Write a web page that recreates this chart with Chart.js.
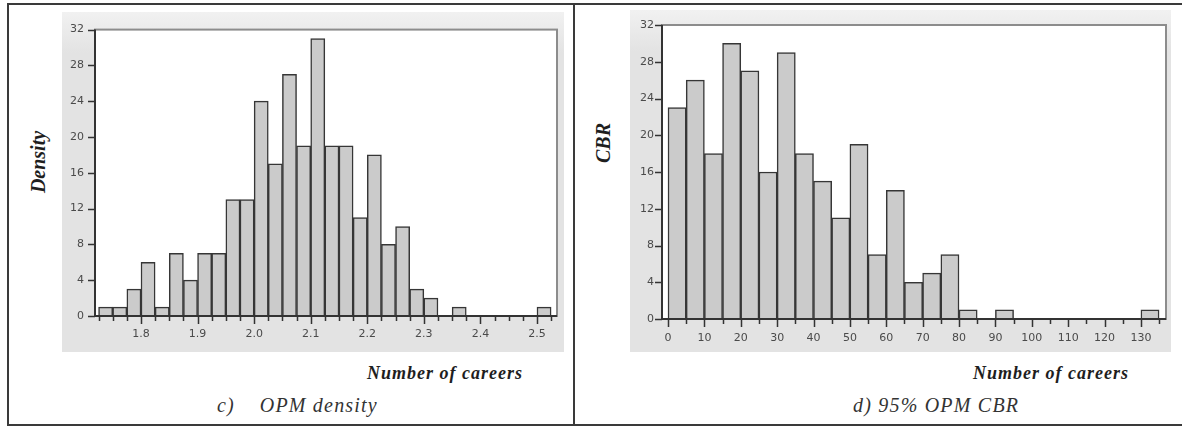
<!DOCTYPE html>
<html>
<head>
<meta charset="utf-8">
<script src="https://cdn.jsdelivr.net/npm/chart.js@4.4.1/dist/chart.umd.min.js"></script>
<style>
  html, body { margin: 0; padding: 0; background: #fff; }
  #page { position: relative; width: 1182px; height: 428px; overflow: hidden; background: #fff; }
  .rule { position: absolute; background: #3a3a3a; }
  .panel { position: absolute; background: linear-gradient(#f1f1f1, #e3e3e3 12%, #e3e3e3); }
  .panel canvas { display: block; }
  .ytitle { position: absolute; font: italic bold 20px "Liberation Serif", serif; color: #1e1e1e;
            transform: translate(-50%, -50%) rotate(-90deg); white-space: nowrap; }
  .xtitle { position: absolute; font: italic bold 18px "Liberation Serif", serif; color: #1e1e1e;
            letter-spacing: 1px; white-space: nowrap; transform: translateY(-50%); }
  .caption { position: absolute; font: italic 20px "Liberation Serif", serif; color: #333;
             letter-spacing: 1.2px; white-space: nowrap; transform: translateY(-50%); }
</style>
</head>
<body>
<div id="page">
  <div class="rule" style="left:7px;top:3px;width:1175px;height:2px"></div>
  <div class="rule" style="left:7px;top:3px;width:2px;height:423px"></div>
  <div class="rule" style="left:7px;top:424px;width:1175px;height:2px"></div>
  <div class="rule" style="left:573px;top:3px;width:2px;height:423px"></div>

  <div class="panel" style="left:62px;top:12px;width:502px;height:340px">
    <canvas id="densityChart" width="502" height="340"></canvas>
  </div>
  <div class="panel" style="left:630px;top:10px;width:541px;height:342px">
    <canvas id="cbrChart" width="541" height="342"></canvas>
  </div>

  <div class="ytitle" style="left:38px;top:162px">Density</div>
  <div class="ytitle" style="left:603px;top:143px">CBR</div>
  <div class="xtitle" style="left:367px;top:373px">Number of careers</div>
  <div class="xtitle" style="left:973px;top:373px">Number of careers</div>
  <div class="caption" style="left:217px;top:405px">c)&nbsp;&nbsp;&nbsp;&nbsp;OPM density</div>
  <div class="caption" style="left:853px;top:405px">d) 95% OPM CBR</div>
</div>

<script>
// OPM density histogram: lower bin edges (width 0.025) and counts
const densityBins = [1.725, 1.75, 1.775, 1.8, 1.825, 1.85, 1.875, 1.9, 1.925, 1.95, 1.975,
                     2.0, 2.025, 2.05, 2.075, 2.1, 2.125, 2.15, 2.175, 2.2, 2.225, 2.25, 2.275,
                     2.3, 2.325, 2.35, 2.375, 2.4, 2.425, 2.45, 2.475, 2.5];
const densityCounts = [1, 1, 3, 6, 1, 7, 4, 7, 7, 13, 13,
                       24, 17, 27, 19, 31, 19, 19, 11, 18, 8, 10, 3,
                       2, 0, 1, 0, 0, 0, 0, 0, 1];
const densityBinWidth = 0.025;

// 95% OPM CBR histogram: lower bin edges (width 5) and counts
const cbrBins = [0, 5, 10, 15, 20, 25, 30, 35, 40, 45, 50, 55, 60, 65, 70, 75, 80, 85,
                 90, 95, 100, 105, 110, 115, 120, 125, 130];
const cbrCounts = [23, 26, 18, 30, 27, 16, 29, 18, 15, 11, 19, 7, 14, 4, 5, 7, 1, 0,
                   1, 0, 0, 0, 0, 0, 0, 0, 1];
const cbrBinWidth = 5;

// Tick labels
const densityTickLabels = ['1.8', '1.9', '2.0', '2.1', '2.2', '2.3', '2.4', '2.5'];
const cbrTickLabels = ['0', '10', '20', '30', '40', '50', '60', '70', '80', '90', '100', '110', '120', '130'];
const countTickLabels = ['0', '4', '8', '12', '16', '20', '24', '28', '32'];

const TICK_FONT = { family: '"DejaVu Sans", sans-serif', size: 11 };
const TICK_COLOR = '#4a4a4a';

// White plot area behind the bars
const plotBackground = {
  id: 'plotBackground',
  beforeDatasetsDraw(chart) {
    const { ctx, chartArea: a } = chart;
    ctx.save();
    ctx.fillStyle = '#ffffff';
    ctx.fillRect(a.left, a.top, a.right - a.left, a.bottom - a.top);
    ctx.restore();
  }
};

// Frame, axis lines and tick marks drawn on top of the bars
const histFrame = {
  id: 'histFrame',
  afterDatasetsDraw(chart, args, opts) {
    const { ctx, chartArea: a, scales: { x, y } } = chart;
    ctx.save();
    ctx.strokeStyle = '#8c8c8c';
    ctx.lineWidth = 2;
    ctx.strokeRect(a.left, a.top, a.right - a.left, a.bottom - a.top);

    ctx.strokeStyle = '#333';
    ctx.lineWidth = 2;
    ctx.beginPath();
    ctx.moveTo(a.left, a.top);
    ctx.lineTo(a.left, a.bottom);
    ctx.lineTo(a.right, a.bottom);
    ctx.stroke();

    ctx.lineWidth = 1.5;
    ctx.beginPath();
    opts.edges.forEach(v => {
      const px = Math.round(x.getPixelForValue(v)) + 0.5;
      const r = v / opts.major;
      const isMajor = Math.abs(r - Math.round(r)) < 1e-6;
      ctx.moveTo(px, a.bottom);
      ctx.lineTo(px, a.bottom + (isMajor ? 8 : 5));
    });
    y.ticks.forEach(t => {
      const py = Math.round(y.getPixelForValue(t.value)) + 0.5;
      ctx.moveTo(a.left - 7, py);
      ctx.lineTo(a.left, py);
    });
    ctx.stroke();
    ctx.restore();
  }
};

function makeHistogram(id, bins, counts, binWidth, cfg) {
  const points = bins.map((b, i) => ({ x: b + binWidth / 2, y: counts[i] }));
  const edges = bins.concat([bins[bins.length - 1] + binWidth]);
  return new Chart(document.getElementById(id), {
    type: 'bar',
    data: {
      datasets: [{
        data: points,
        backgroundColor: '#cbcbcb',
        borderColor: '#363636',
        borderWidth: 1.5,
        borderSkipped: 'bottom',
        barPercentage: 1,
        categoryPercentage: 1
      }]
    },
    plugins: [plotBackground, histFrame],
    options: {
      responsive: false,
      animation: false,
      events: [],
      layout: { padding: cfg.padding },
      plugins: {
        legend: { display: false },
        tooltip: { enabled: false },
        histFrame: { edges: edges, major: cfg.major }
      },
      scales: {
        x: {
          type: 'linear',
          offset: false,
          min: cfg.xMin,
          max: cfg.xMax,
          afterFit: s => { s.height = cfg.xHeight; },
          afterBuildTicks: s => {
            s.ticks = cfg.xLabels.map(l => ({ value: parseFloat(l), label: l }));
          },
          grid: { display: false, drawTicks: false },
          border: { display: false },
          ticks: {
            autoSkip: false,
            maxRotation: 0,
            padding: cfg.xPad,
            color: TICK_COLOR,
            font: TICK_FONT,
            callback: (v, i) => cfg.xLabels[i]
          }
        },
        y: {
          min: 0,
          max: 32,
          afterFit: s => { s.width = cfg.yWidth; },
          afterBuildTicks: s => {
            s.ticks = countTickLabels.map(l => ({ value: parseFloat(l), label: l }));
          },
          grid: { display: false, drawTicks: false },
          border: { display: false },
          ticks: {
            padding: cfg.yPad,
            color: TICK_COLOR,
            font: TICK_FONT,
            callback: (v, i) => countTickLabels[i]
          }
        }
      }
    }
  });
}

makeHistogram('densityChart', densityBins, densityCounts, densityBinWidth, {
  xMin: 1.7187, xMax: 2.5354, major: 0.1, xLabels: densityTickLabels,
  padding: { top: 16, right: 7, left: 0, bottom: 0 },
  xHeight: 36, yWidth: 33, xPad: 12, yPad: 11
});

makeHistogram('cbrChart', cbrBins, cbrCounts, cbrBinWidth, {
  xMin: -1.65, xMax: 136.9, major: 10, xLabels: cbrTickLabels,
  padding: { top: 15, right: 5, left: 0, bottom: 0 },
  xHeight: 33, yWidth: 32, xPad: 13, yPad: 8
});
</script>
</body>
</html>
